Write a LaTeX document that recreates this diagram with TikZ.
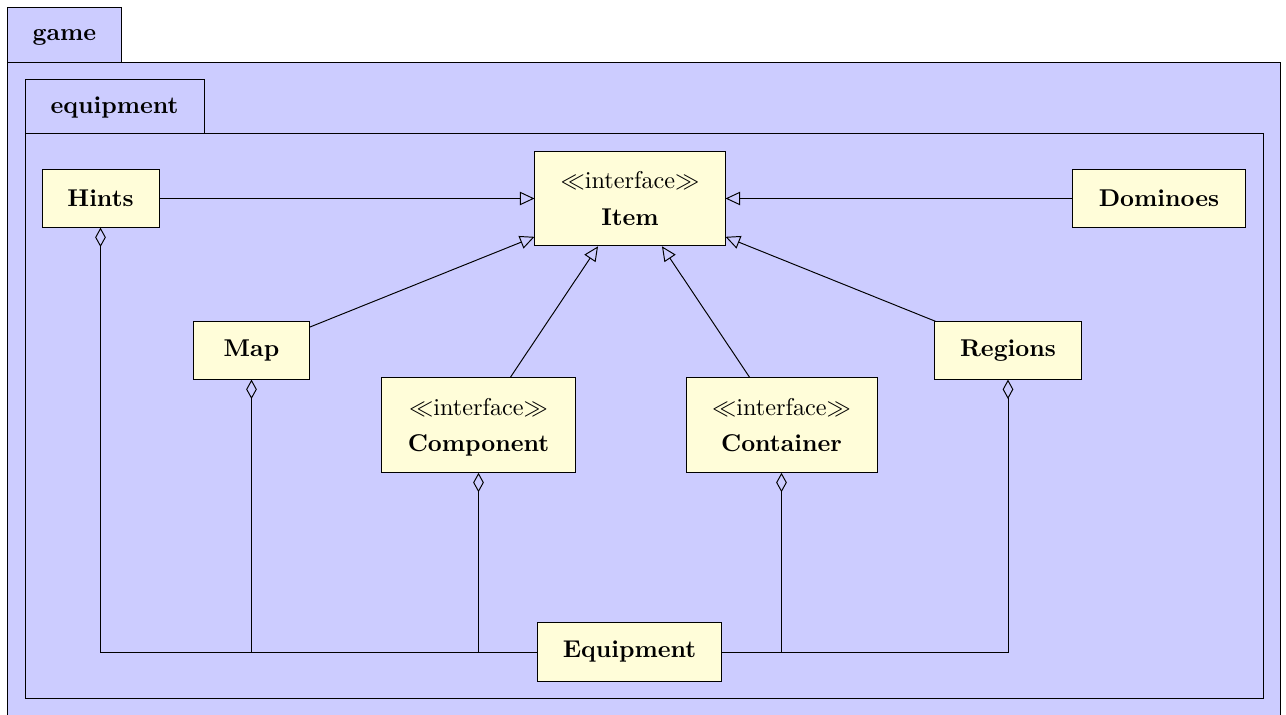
\documentclass[tikz,border=0pt]{standalone}
\usepackage{amsmath}
\usepackage{amssymb}
\usetikzlibrary{arrows.meta}
\tikzset{
pkg/.style = {draw, fill=blue!20},
pkgname/.style = {font=\bfseries},
umlclass/.style = {draw, fill=yellow!15, align=center, inner sep=0pt, font=\bfseries},
smallclass/.style = {umlclass, minimum height=23.6pt},
bigclass/.style = {umlclass, minimum height=39pt},
inherit/.style = {-{Triangle[open, length=6pt, width=5.5pt]}},
aggreg/.style = {{Diamond[open, length=8pt, width=4.4pt]}-}
}
\newcommand{\ifacename}[1]{{\mdseries$\ll$interface$\gg$}\\[3pt]\smash[b]{#1}}

\begin{document}
\begin{tikzpicture}[x=0.412pt, y=-0.412pt]
	\useasboundingbox (0,0) rectangle (1286,715);
	% packages
	\draw[pkg] (7,7) rectangle (121,62);
	\draw[pkg] (7,62) rectangle (1280,718);
	\node[pkgname] (game) at (64.5,37) {game};
	\draw[pkg] (25,79) rectangle (204,133);
	\draw[pkg] (25,133) rectangle (1263,698);
	\node[pkgname] (equipment) at (114.5,107.5) {equipment};
	% classes
	\node[bigclass, minimum width=78.3pt] (Item) at (630,198.5) {\ifacename{Item}};
	\node[smallclass, minimum width=48.2pt] (Hints) at (100.5,198.5) {Hints};
	\node[smallclass, minimum width=70.9pt] (Dominoes) at (1159,198.5) {Dominoes};
	\node[smallclass, minimum width=47.4pt] (Map) at (251.5,350.5) {Map};
	\node[smallclass, minimum width=60.2pt] (Regions) at (1008,350.5) {Regions};
	\node[bigclass, minimum width=80.3pt] (Component) at (478.5,425) {\ifacename{Component}};
	\node[bigclass, minimum width=78.7pt] (Container) at (781.5,425) {\ifacename{Container}};
	\node[smallclass, minimum width=76.2pt, minimum height=24pt] (Equipment) at (629.5,652) {Equipment};
	% inheritance
	\draw[inherit] (Hints) -- (Item);
	\draw[inherit] (Dominoes) -- (Item);
	\draw[inherit] (Map) -- (Item);
	\draw[inherit] (Regions) -- (Item);
	\draw[inherit] (Component) -- (Item);
	\draw[inherit] (Container) -- (Item);
	% aggregation
	\draw[aggreg] (Hints) |- (Equipment);
	\draw[aggreg] (Map) |- (Equipment);
	\draw[aggreg] (Component) |- (Equipment);
	\draw[aggreg] (Container) |- (Equipment);
	\draw[aggreg] (Regions) |- (Equipment);
\end{tikzpicture}
\end{document}
